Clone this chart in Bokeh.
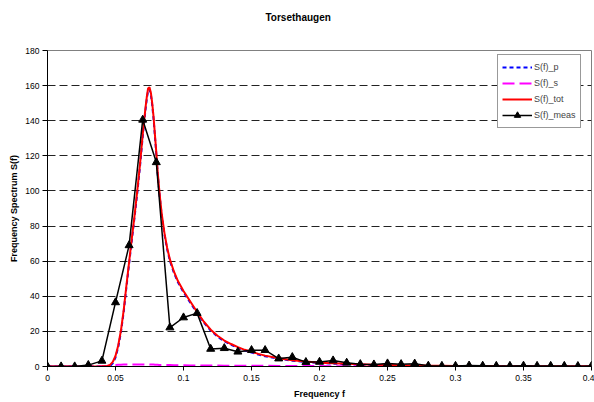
from bokeh.plotting import figure
from bokeh.models import (Range1d, FixedTicker, CustomJSTickFormatter, Legend, LegendItem, Title)
from bokeh.embed import file_html
from bokeh.resources import INLINE

# ---- data ----
freq_model = [0.0, 0.03, 0.04, 0.044, 0.046, 0.048, 0.050, 0.052, 0.054, 0.056, 0.058,
              0.060, 0.062, 0.064, 0.066, 0.068, 0.070, 0.072, 0.073, 0.074, 0.075,
              0.076, 0.077, 0.078, 0.079, 0.080, 0.081, 0.082, 0.083, 0.084, 0.086,
              0.088, 0.090, 0.093, 0.096, 0.100, 0.105, 0.110, 0.115, 0.120, 0.125,
              0.130, 0.135, 0.140, 0.145, 0.150, 0.155, 0.160, 0.170, 0.180, 0.190,
              0.200, 0.210, 0.220, 0.240, 0.260, 0.280, 0.300, 0.330, 0.360, 0.400]
s_tot = [0.0, 0.0, 0.1, 0.3, 0.9, 2.6, 6.0, 12.0, 20.5, 32.0, 46.0,
         59.5, 73.0, 86.0, 100.0, 115.0, 132.0, 147.0, 153.5, 158.5, 159.0,
         156.0, 150.0, 142.0, 132.0, 122.0, 111.0, 102.0, 94.0, 87.0, 76.0,
         67.5, 61.0, 54.0, 48.5, 43.0, 37.0, 31.0, 25.5, 21.0, 17.5,
         14.8, 12.8, 11.0, 9.5, 8.4, 7.2, 6.2, 4.7, 3.6, 2.8,
         2.2, 1.8, 1.5, 1.0, 0.7, 0.5, 0.35, 0.22, 0.14, 0.08]
s_p = [0.0, 0.0, 0.0, 0.0, 0.3, 1.8, 5.1, 11.0, 19.5, 30.9, 44.9,
       58.4, 71.9, 84.9, 98.8, 113.8, 130.8, 145.8, 152.3, 157.3, 157.9,
       154.9, 148.9, 140.9, 131.0, 121.0, 110.0, 101.1, 93.1, 86.1, 75.2,
       66.7, 60.2, 53.3, 47.8, 42.3, 36.4, 30.4, 25.0, 20.5, 17.0,
       14.4, 12.4, 10.6, 9.1, 8.0, 6.8, 5.8, 4.4, 3.3, 2.5,
       2.0, 1.6, 1.3, 0.8, 0.5, 0.3, 0.2, 0.1, 0.05, 0.03]
s_s = [0.0, 0.0, 0.1, 0.3, 0.6, 0.8, 0.9, 1.0, 1.0, 1.1, 1.1,
       1.1, 1.1, 1.1, 1.2, 1.2, 1.2, 1.2, 1.2, 1.2, 1.1,
       1.1, 1.1, 1.1, 1.0, 1.0, 1.0, 0.9, 0.9, 0.9, 0.8,
       0.8, 0.8, 0.7, 0.7, 0.7, 0.6, 0.6, 0.5, 0.5, 0.5,
       0.4, 0.4, 0.4, 0.4, 0.4, 0.4, 0.4, 0.3, 0.3, 0.3,
       0.25, 0.2, 0.2, 0.15, 0.15, 0.1, 0.1, 0.08, 0.06, 0.05]

freq_meas = [0.00, 0.01, 0.02, 0.03, 0.04, 0.05, 0.06, 0.07, 0.08, 0.09, 0.10,
             0.11, 0.12, 0.13, 0.14, 0.15, 0.16, 0.17, 0.18, 0.19, 0.20,
             0.21, 0.22, 0.23, 0.24, 0.25, 0.26, 0.27, 0.28, 0.29, 0.30,
             0.31, 0.32, 0.33, 0.34, 0.35, 0.36, 0.37, 0.38, 0.39, 0.40]
s_meas = [0.0, 0.0, 0.0, 0.8, 3.2, 36.5, 69.0, 140.5, 116.3, 22.2, 27.9,
          30.4, 10.0, 10.4, 8.4, 9.3, 9.3, 4.5, 5.3, 2.5, 2.6,
          3.4, 2.1, 1.3, 1.1, 1.7, 1.3, 1.6, 0.4, 0.3, 0.3,
          0.5, 0.4, 0.3, 0.3, 0.4, 0.3, 0.3, 0.3, 0.2, 0.3]

x_ticks = [0, 0.05, 0.1, 0.15, 0.2, 0.25, 0.3, 0.35, 0.4]
y_ticks = [0, 20, 40, 60, 80, 100, 120, 140, 160, 180]
title_text = "Torsethaugen"

FONT = "Liberation Sans"

p = figure(width=594, height=402, output_backend="svg", toolbar_location=None,
           x_range=Range1d(0, 0.4), y_range=Range1d(0, 180),
           min_border_left=47, min_border_right=3, min_border_top=50, min_border_bottom=36)

# spacer panel (closest to the frame), then the real title above it
p.add_layout(Title(text=" ", text_font=FONT, text_font_size="10px", standoff=15), "above")
p.add_layout(Title(text=title_text, align="left", offset=218, text_font=FONT,
                   text_font_size="10px", text_font_style="bold", text_color="black",
                   standoff=0), "above")

p.outline_line_color = "#808080"
p.outline_line_width = 1
p.background_fill_color = "white"
p.border_fill_color = "white"

p.xgrid.visible = False
p.ygrid.ticker = FixedTicker(ticks=y_ticks)
p.ygrid.grid_line_color = "#222222"
p.ygrid.grid_line_dash = "8 4"
p.ygrid.grid_line_width = 1

p.xaxis.ticker = FixedTicker(ticks=x_ticks)
p.xaxis.formatter = CustomJSTickFormatter(code="return parseFloat(tick.toFixed(2)).toString();")
p.yaxis.ticker = FixedTicker(ticks=y_ticks)

for ax in (p.xaxis, p.yaxis):
    ax.axis_line_color = "black"
    ax.major_tick_line_color = "black"
    ax.minor_tick_line_color = None
    ax.major_tick_in = 0
    ax.major_label_text_font = FONT
    ax.major_label_text_font_size = "8.5px"
    ax.major_label_text_color = "black"
    ax.axis_label_text_font = FONT
    ax.axis_label_text_font_size = "9px"
    ax.axis_label_text_font_style = "bold"
    ax.axis_label_text_color = "black"

p.xaxis.major_tick_out = 4
p.yaxis.major_tick_out = 5
p.xaxis.major_label_standoff = 4
p.yaxis.major_label_standoff = 3
p.xaxis.axis_label = "Frequency f"
p.yaxis.axis_label = "Frequency Spectrum S(f)"
p.xaxis.axis_label_standoff = 5
p.yaxis.axis_label_standoff = 3

r_p = p.line(freq_model, s_p, line_color="#0000FF", line_width=2, line_dash="4 3")
r_s = p.line(freq_model, s_s, line_color="#FF00FF", line_width=2, line_dash="12 5")
r_tot = p.line(freq_model, s_tot, line_color="#FF0000", line_width=2)
r_meas_l = p.line(freq_meas, s_meas, line_color="black", line_width=1.5)
r_meas_m = p.scatter(freq_meas, s_meas, marker="triangle", size=8,
                     fill_color="black", line_color="black")

legend = Legend(items=[
    LegendItem(label="S(f)_p", renderers=[r_p]),
    LegendItem(label="S(f)_s", renderers=[r_s]),
    LegendItem(label="S(f)_tot", renderers=[r_tot]),
    LegendItem(label="S(f)_meas", renderers=[r_meas_l, r_meas_m]),
], location=(450, 238))
legend.label_text_font = FONT
legend.label_text_font_size = "9px"
legend.label_standoff = 2
legend.glyph_width = 30
legend.glyph_height = 16
legend.label_height = 16
legend.spacing = 0
legend.padding = 4
legend.margin = 0
legend.border_line_color = "#333333"
legend.border_line_width = 1
legend.background_fill_color = "white"
legend.background_fill_alpha = 1
p.add_layout(legend, "center")

open("out.html", "w").write(file_html(p, INLINE))
